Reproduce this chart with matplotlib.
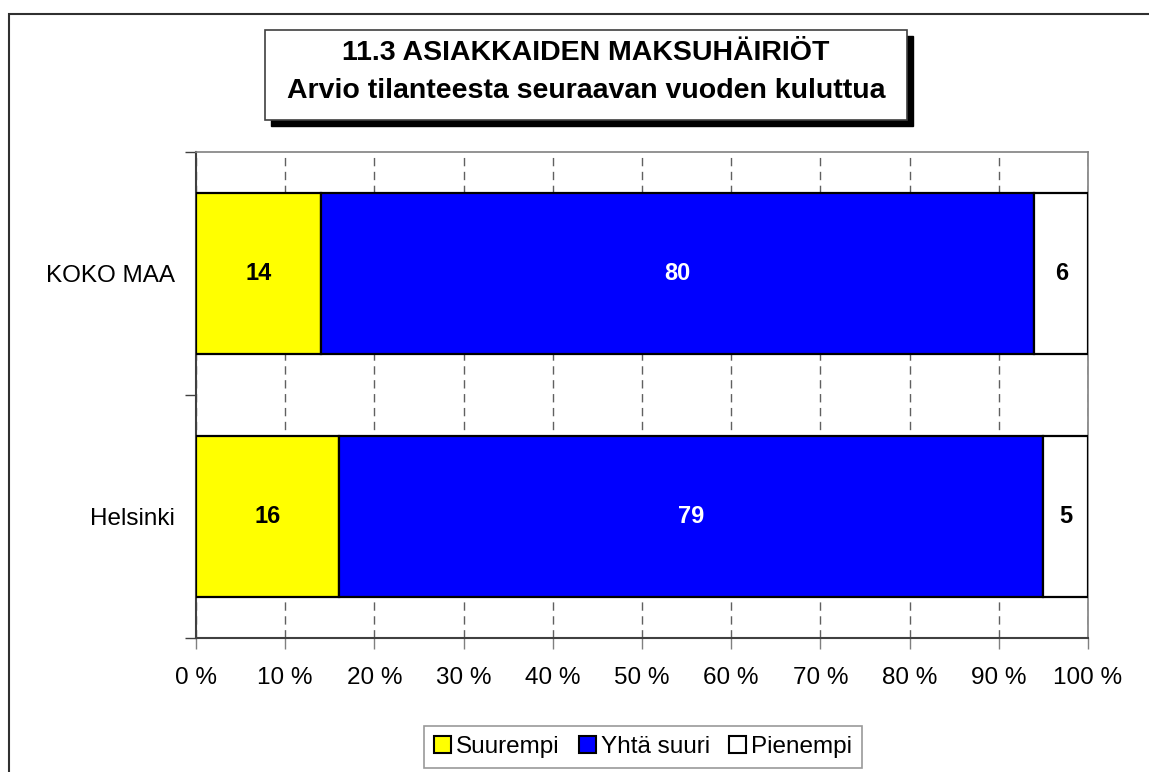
import matplotlib
matplotlib.use("Agg")
import matplotlib.pyplot as plt
from matplotlib.patches import Rectangle, Patch
import numpy as np

plt.rcParams["font.family"] = ["Liberation Sans", "DejaVu Sans"]

CATEGORIES = ["KOKO MAA", "Helsinki"]
SERIES = ["Suurempi", "Yhtä suuri", "Pienempi"]
VALUES = {
    "Suurempi": [14, 16],
    "Yhtä suuri": [80, 79],
    "Pienempi": [6, 5],
}
COLORS = {"Suurempi": "#ffff00", "Yhtä suuri": "#0000ff", "Pienempi": "#ffffff"}
TEXT_COLORS = {"Suurempi": "black", "Yhtä suuri": "white", "Pienempi": "black"}
TITLE = "11.3 ASIAKKAIDEN MAKSUHÄIRIÖT\nArvio tilanteesta seuraavan vuoden kuluttua"
XTICKS = list(range(0, 101, 10))

W, H = 1149, 772
fig = plt.figure(figsize=(W / 100, H / 100), dpi=100)
ax = fig.add_axes([196 / W, 1 - 638 / H, (1088 - 196) / W, (638 - 152) / H])

y = np.arange(len(CATEGORIES))
left = np.zeros(len(CATEGORIES))
for s in SERIES:
    vals = np.array(VALUES[s], dtype=float)
    ax.barh(y, vals, left=left, height=0.66, color=COLORS[s],
            edgecolor="black", linewidth=1.6, zorder=3)
    for yi, (l, v) in enumerate(zip(left, vals)):
        ax.text(l + v / 2, yi, f"{v:.0f}", ha="center", va="center",
                fontsize=17, fontweight="bold", color=TEXT_COLORS[s], zorder=4)
    left += vals

ax.set_xlim(0, 100)
ax.set_ylim(1.5, -0.5)
ax.set_xticks(XTICKS)
ax.set_xticklabels([f"{t} %" for t in XTICKS], fontsize=17.5)
ax.set_yticks(y)
ax.set_yticklabels(CATEGORIES, fontsize=17.5)
ax.tick_params(axis="y", length=0, pad=15)
ax.set_yticks([-0.5, 0.5, 1.5], minor=True)
ax.tick_params(axis="y", which="minor", length=8, width=1, color="#404040")
ax.tick_params(axis="x", length=8, width=1, color="#808080", pad=13)
ax.xaxis.grid(True, linestyle=(0, (6, 4)), color="#606060", linewidth=1, zorder=0)
ax.set_axisbelow(True)
for side in ("top", "right"):
    ax.spines[side].set_color("#808080")
    ax.spines[side].set_linewidth(1.2)
for side in ("left", "bottom"):
    ax.spines[side].set_color("#404040")
    ax.spines[side].set_linewidth(1.5)

# outer frame
fig.patches.append(Rectangle((9 / W, -0.1), 1.2, 1 - 14 / H + 0.1,
                             transform=fig.transFigure, fill=False,
                             edgecolor="#303030", linewidth=1.5))

# title box with shadow
tx0, ty0, tx1, ty1 = 265, 30, 907, 120
fig.patches.append(Rectangle(((tx0 + 6) / W, 1 - (ty1 + 6) / H), (tx1 - tx0) / W,
                             (ty1 - ty0) / H, transform=fig.transFigure,
                             facecolor="black", edgecolor="black", zorder=1))
fig.patches.append(Rectangle((tx0 / W, 1 - ty1 / H), (tx1 - tx0) / W,
                             (ty1 - ty0) / H, transform=fig.transFigure,
                             facecolor="white", edgecolor="#404040",
                             linewidth=1.2, zorder=2))
fig.text((tx0 + tx1) / 2 / W, 1 - 72 / H, TITLE, ha="center",
         va="center", fontsize=20.5, fontweight="bold", linespacing=1.55,
         zorder=3)

handles = [Patch(facecolor=COLORS[s], edgecolor="black", linewidth=1.5, label=s)
           for s in SERIES]
leg = fig.legend(handles=handles, loc="center", ncol=3,
                 bbox_to_anchor=(643 / W, 1 - 747 / H), fontsize=17.5,
                 frameon=True, fancybox=False, handlelength=0.7,
                 handleheight=0.7, handletextpad=0.2, columnspacing=0.8,
                 borderpad=0.4)
leg.get_frame().set_edgecolor("#808080")
leg.get_frame().set_linewidth(1.2)

fig.savefig("out.png", dpi=100)
